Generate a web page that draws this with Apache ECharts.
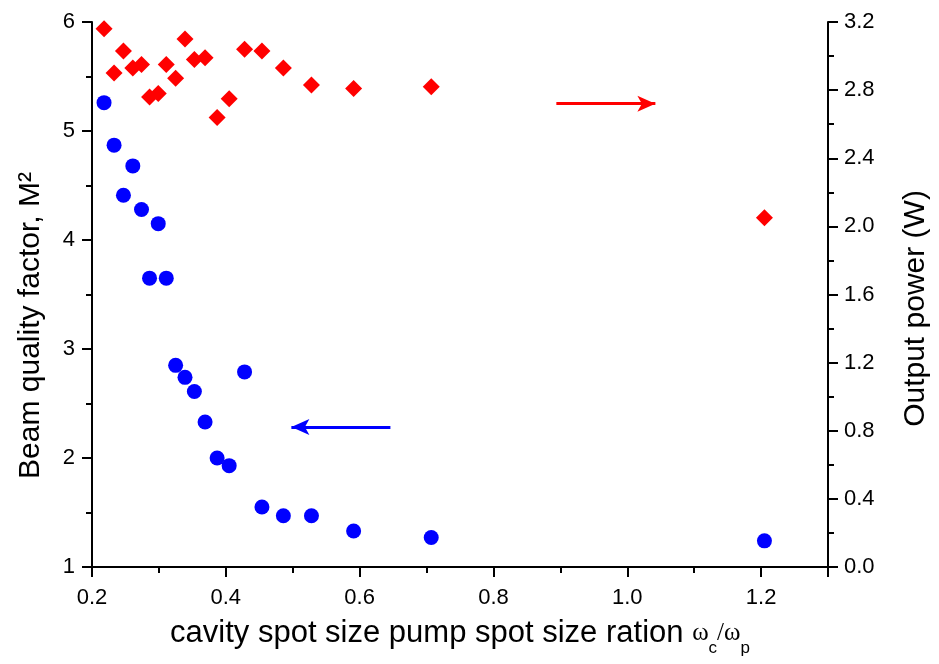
<!DOCTYPE html>
<html>
<head>
<meta charset="utf-8">
<script src="https://cdn.jsdelivr.net/npm/echarts@6/dist/echarts.min.js"></script>
<style>
html,body{margin:0;padding:0;background:#fff;}
#chart{width:939px;height:664px;}
</style>
</head>
<body>
<div id="chart"></div>
<script>
// x: cavity spot size / pump spot size ratio
const ratio = [0.218,0.233,0.247,0.261,0.274,0.286,0.299,0.311,0.325,0.339,0.353,0.369,0.387,0.405,0.428,0.454,0.486,0.528,0.591,0.707,1.205];
// Beam quality factor M^2 (left axis)
const m2 = [5.26,4.87,4.41,4.68,4.28,3.65,4.15,3.65,2.85,2.74,2.61,2.33,2.00,1.93,2.79,1.55,1.47,1.47,1.33,1.27,1.24];
// Output power W (right axis)
const power = [3.16,2.90,3.03,2.93,2.95,2.76,2.78,2.95,2.87,3.10,2.98,2.99,2.64,2.75,3.04,3.03,2.93,2.83,2.81,2.82,2.05];
// Arrow annotations (data coordinates): [xStart, xEnd(tip), y]
const redArrow = [0.894, 1.042, 2.72];
const blueArrow = [0.646, 0.498, 2.284];

const FONT = "'Liberation Sans', Arial, sans-serif";
const axisLineStyle = {color:'#000', width:2};

const chart = echarts.init(document.getElementById('chart'));
chart.setOption({
  animation:false,
  backgroundColor:'#fff',
  grid:{left:92, right:107, top:22, bottom:97, containLabel:false},
  xAxis:{
    type:'value', min:0.2, max:1.3, interval:0.2,
    splitLine:{show:false},
    axisLine:{show:true, onZero:false, lineStyle:axisLineStyle},
    axisTick:{show:true, length:10, lineStyle:{color:'#000', width:2}},
    minorTick:{show:true, splitNumber:2, length:6, lineStyle:{color:'#000', width:2}},
    axisLabel:{color:'#000', fontSize:22, fontFamily:FONT, margin:20, showMaxLabel:false,
      formatter:v=>v.toFixed(1)},
    name:'{t|cavity spot size pump spot size ration }{w|ω}{s|c}{w|/ω}{s|p}',
    nameLocation:'middle', nameGap:42,
    nameTextStyle:{
      rich:{
        t:{fontSize:31, fontFamily:FONT, color:'#000', lineHeight:48, verticalAlign:'middle'},
        w:{fontSize:25, fontFamily:"'Liberation Serif', serif", color:'#000', lineHeight:48, verticalAlign:'middle'},
        s:{fontSize:17, fontFamily:FONT, color:'#000', lineHeight:12, verticalAlign:'bottom'}
      }
    }
  },
  yAxis:[{
    type:'value', min:1, max:6, interval:1, position:'left',
    splitLine:{show:false},
    axisLine:{show:true, onZero:false, lineStyle:axisLineStyle},
    axisTick:{show:true, length:10, lineStyle:{color:'#000', width:2}},
    minorTick:{show:true, splitNumber:2, length:6, lineStyle:{color:'#000', width:2}},
    axisLabel:{color:'#000', fontSize:22, fontFamily:FONT, margin:17},
    name:'Beam quality factor, M²', nameLocation:'middle', nameGap:46,
    nameTextStyle:{color:'#000', fontSize:30, fontFamily:FONT, padding:[0,62,0,0]}
  },{
    type:'value', min:0, max:3.2, interval:0.4, position:'right',
    splitLine:{show:false},
    axisLine:{show:true, onZero:false, lineStyle:axisLineStyle},
    axisTick:{show:true, length:10, lineStyle:{color:'#000', width:2}},
    minorTick:{show:true, splitNumber:2, length:6, lineStyle:{color:'#000', width:2}},
    axisLabel:{color:'#000', fontSize:22, fontFamily:FONT, margin:16, formatter:v=>v.toFixed(1)},
    name:'Output power (W)', nameLocation:'middle', nameGap:73,
    nameTextStyle:{color:'#000', fontSize:30, fontFamily:FONT, padding:[0,28,0,0]}
  }],
  series:[{
    type:'scatter', yAxisIndex:0,
    data:ratio.map((x,i)=>[x,m2[i]]),
    symbol:'circle', symbolSize:15,
    itemStyle:{color:'#0000ff', opacity:1},
    markLine:{
      silent:true, symbol:['arrow','none'], symbolSize:[12,18],
      label:{show:false},
      lineStyle:{color:'#0000ff', width:3, type:'solid', opacity:1},
      data:[[{coord:[blueArrow[1], blueArrow[2]]},{coord:[blueArrow[0], blueArrow[2]]}]]
    }
  },{
    type:'scatter', yAxisIndex:1,
    data:ratio.map((x,i)=>[x,power[i]]),
    symbol:'diamond', symbolSize:17,
    itemStyle:{color:'#ff0000', opacity:1},
    markLine:{
      silent:true, symbol:['none','arrow'], symbolSize:[12,18],
      label:{show:false},
      lineStyle:{color:'#ff0000', width:3, type:'solid', opacity:1},
      data:[[{coord:[redArrow[0], redArrow[2]]},{coord:[redArrow[1], redArrow[2]]}]]
    }
  }]
});
</script>
</body>
</html>
